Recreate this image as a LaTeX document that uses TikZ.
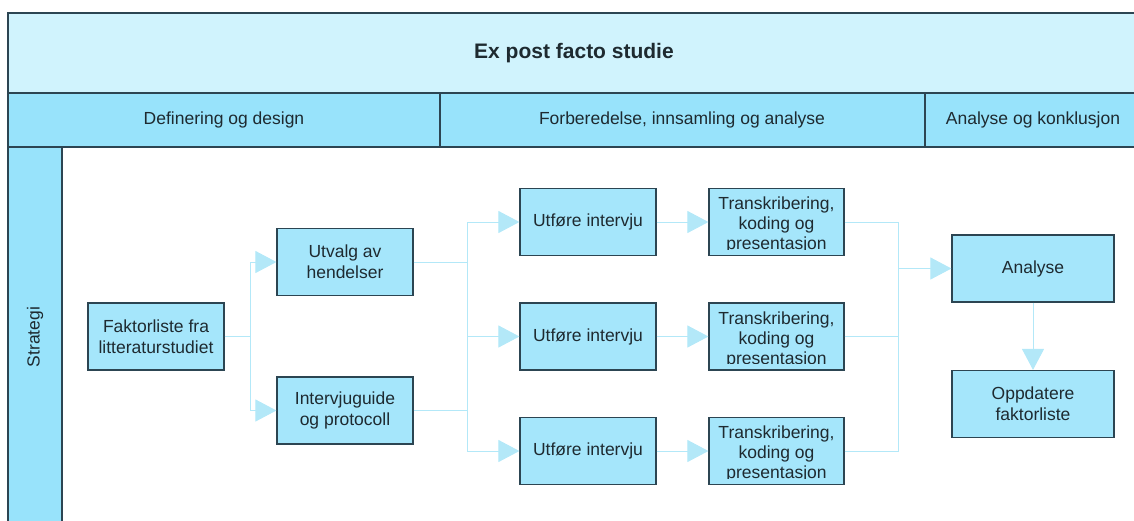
\documentclass[tikz,border=0pt]{standalone}
\usepackage{fontspec}
\setmainfont{Liberation Sans}
\usetikzlibrary{arrows.meta}

\definecolor{titlefill}{HTML}{D0F3FD}
\definecolor{headfill}{HTML}{98E3FB}
\definecolor{boxfill}{HTML}{A5E6FB}
\definecolor{edge}{HTML}{2C4552}
\definecolor{link}{HTML}{B3E8F8}
\definecolor{ink}{HTML}{1E2A30}

\begin{document}
\begin{tikzpicture}[x=1pt,y=-1pt,
  every node/.style={text=ink},
  frame/.style={draw=edge, line width=1.2pt},
  box/.style={draw=edge, fill=boxfill, line width=1.2pt, minimum width=136pt,
    minimum height=67pt, inner sep=0pt, align=center, font=\fontsize{17.5}{21}\selectfont},
  boxtext/.style={inner sep=0pt, align=center, font=\fontsize{17.5}{20}\selectfont},
  lbl/.style={font=\fontsize{17.5}{21}\selectfont},
  link/.style={draw=link, line width=1pt},
  arr/.style={link, -{Triangle[length=21pt,width=22pt,fill=link]}}]

\useasboundingbox (0,0) rectangle (1134,520);
\clip (0,0) rectangle (1134,520);

% swimlane frame
\fill[titlefill] (8,13) rectangle (1141,93);
\fill[headfill] (8,93) rectangle (1141,147);
\fill[headfill] (8,147) rectangle (62,530);
\draw[frame] (8,530) -- (8,13) -- (1141,13) -- (1141,530);
\draw[frame] (8,93) -- (1141,93);
\draw[frame] (8,147) -- (1141,147);
\draw[frame] (62,147) -- (62,530);
\draw[frame] (440,93) -- (440,147);
\draw[frame] (925,93) -- (925,147);

\node[font=\fontsize{21}{25}\selectfont\bfseries] (title) at (574,53) {Ex post facto studie};
\node[lbl] (h1) at (224,120) {Definering og design};
\node[lbl] (h2) at (682,120) {Forberedelse, innsamling og analyse};
\node[lbl] (h3) at (1033,120) {Analyse og konklusjon};
\node[lbl, rotate=90] (lane) at (35,337) {Strategi};

% process boxes
\node[box] (fakt) at (156,336.5) {Faktorliste fra\\litteraturstudiet};
\node[box] (utv) at (345,262) {Utvalg av\\hendelser};
\node[box] (guide) at (345,410.5) {Intervjuguide\\og protocoll};
\node[box] (u1) at (588,222) {Utføre intervju};
\node[box] (u2) at (588,336.5) {Utføre intervju};
\node[box] (u3) at (588,451) {Utføre intervju};
\foreach \n/\y in {t1/222, t2/336.5, t3/451}{
  \node[box, minimum width=135pt] (\n) at (776.5,\y) {};
  \begin{scope}
    \clip ([yshift=7pt]\n.south west) rectangle (\n.north east);
    \node[boxtext] (\n txt) at ([yshift=-3pt]\n.center) {Transkribering,\\koding og\\presentasjon};
  \end{scope}
}
\node[box, minimum width=162pt] (ana) at (1033,268.5) {Analyse};
\node[box, minimum width=162pt] (opp) at (1033,404) {Oppdatere\\faktorliste};

% connectors
\coordinate (j1) at (250,336.5);
\coordinate (j2) at (467,336.5);
\coordinate (j3) at (898,336.5);

\draw[link] (fakt.east) -- (j1);
\draw[arr] (j1) |- (utv.west);
\draw[arr] (j1) |- (guide.west);

\draw[link] (utv.east) -| (j2);
\draw[link] (guide.east) -| (j2);
\draw[arr] (j2) |- (u1.west);
\draw[arr] (j2) -- (u2.west);
\draw[arr] (j2) |- (u3.west);

\draw[arr] (u1.east) -- (t1.west);
\draw[arr] (u2.east) -- (t2.west);
\draw[arr] (u3.east) -- (t3.west);

\draw[link] (t1.east) -| (j3);
\draw[link] (t3.east) -| (j3);
\draw[link] (t2.east) -- (j3);
\draw[arr] (j3 |- ana.west) -- (ana.west);

\draw[arr] (ana.south) -- (opp.north);
\end{tikzpicture}
\end{document}
